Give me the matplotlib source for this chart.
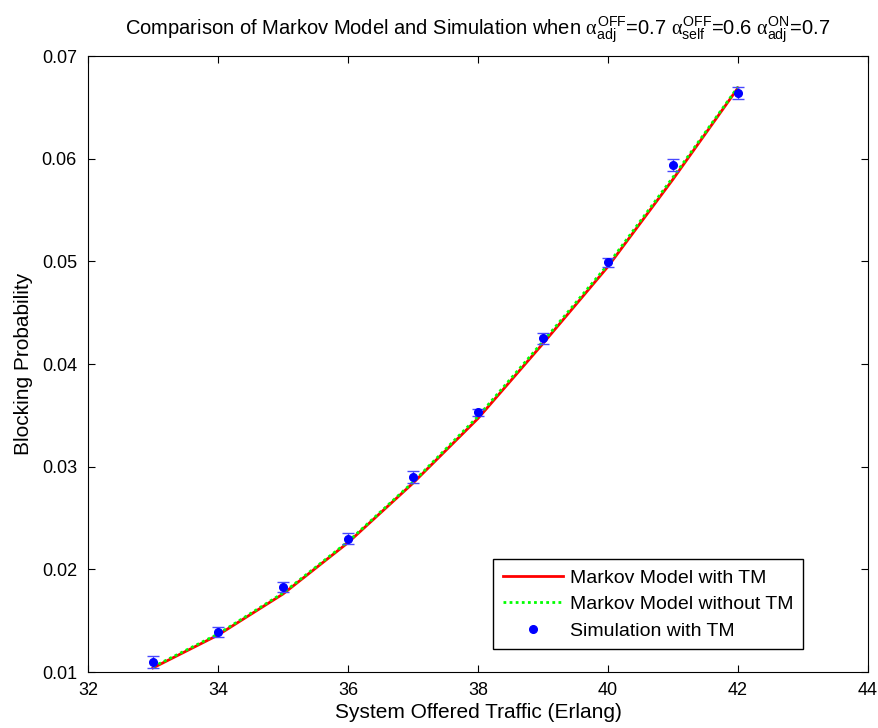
import numpy as np
import matplotlib
matplotlib.use("Agg")
import matplotlib.pyplot as plt

plt.rcParams['font.family'] = ['Liberation Sans', 'DejaVu Sans']
plt.rcParams['mathtext.fontset'] = 'custom'
plt.rcParams['mathtext.rm'] = 'Liberation Sans'
plt.rcParams['mathtext.it'] = 'Liberation Serif'

# data
traffic = [33, 34, 35, 36, 37, 38, 39, 40, 41, 42]
markov_tm = [0.0104, 0.0136, 0.0176, 0.0226, 0.0284, 0.0347, 0.0420, 0.0495, 0.0580, 0.0669]
markov_no_tm = [0.0105, 0.0137, 0.0177, 0.0227, 0.0285, 0.0349, 0.0422, 0.0497, 0.0582, 0.0670]
sim_tm = [0.01098, 0.0139, 0.0183, 0.0230, 0.0290, 0.0353, 0.0425, 0.0499, 0.0594, 0.0664]
sim_err = [0.0006, 0.00053, 0.0005, 0.00055, 0.0006, 0.00035, 0.0005, 0.00045, 0.0006, 0.00055]

xticks = [32, 34, 36, 38, 40, 42, 44]
yticks = [0.01, 0.02, 0.03, 0.04, 0.05, 0.06, 0.07]

fig = plt.figure(figsize=(8.79, 7.28), dpi=100)
ax = fig.add_axes([0.1001, 0.0769, 0.8874, 0.8461])

ax.plot(traffic, markov_tm, color='red', lw=2, label='Markov Model with TM')
ax.plot(traffic, markov_no_tm, color='#00ff00', lw=2, ls=(0, (1, 1.2)),
        label='Markov Model without TM')
ax.errorbar(traffic, sim_tm, yerr=sim_err, fmt='none', ecolor='#4848ff',
            elinewidth=1, capsize=4.5, capthick=1)
ax.plot(traffic, sim_tm, 'o', color='blue', ms=5.5, ls='none',
        label='Simulation with TM')

ax.set_xlim(32, 44)
ax.set_ylim(0.01, 0.07)
ax.set_xticks(xticks)
ax.set_yticks(yticks)
ax.set_yticklabels(['%.2f' % v for v in yticks])
ax.tick_params(direction='in', top=True, right=True, labelsize=13, length=5)
ax.tick_params(axis='x', pad=7)
ax.tick_params(axis='y', pad=8)

ax.set_xlabel('System Offered Traffic (Erlang)', fontsize=15, labelpad=3)
ax.set_ylabel('Blocking Probability', fontsize=15, labelpad=6)
ax.set_title(r'Comparison of Markov Model and Simulation when '
             r'$\alpha^{\mathrm{OFF}}_{\mathrm{adj}}$=0.7 '
             r'$\alpha^{\mathrm{OFF}}_{\mathrm{self}}$=0.6 '
             r'$\alpha^{\mathrm{ON}}_{\mathrm{adj}}$=0.7', fontsize=14.5, pad=15)

leg = ax.legend(loc='lower right', bbox_to_anchor=(0.917, 0.037), fontsize=14,
                fancybox=False, edgecolor='black', framealpha=1,
                handlelength=3.1, handletextpad=0.35, borderpad=0.5,
                labelspacing=0.45, borderaxespad=0)
leg.get_frame().set_linewidth(1)

fig.savefig('out.png', dpi=100)
